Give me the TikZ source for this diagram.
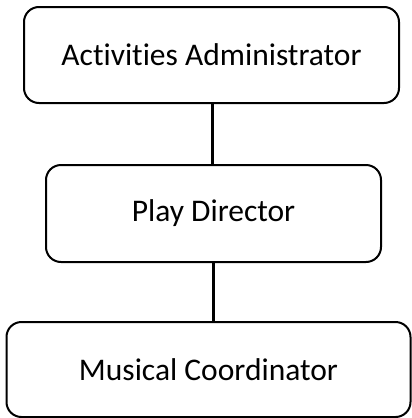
\documentclass[tikz,border=0pt]{standalone}
\usepackage{fontspec}
\setmainfont[Ligatures={NoCommon}]{Carlito}
\begin{document}
\begin{tikzpicture}[x=1pt,y=1pt,
  rolebox/.style={draw=black, line width=2pt, rounded corners=15pt, inner sep=0pt, font=\fontsize{31.5}{36}\selectfont},
  link/.style={draw=black, line width=3pt}]
\useasboundingbox (0,0) rectangle (412,-418);
\node[rolebox, minimum width=375pt, minimum height=96pt] (a) at (211.5,-55) {Activities Administrator};
\node[rolebox, minimum width=335pt, minimum height=97pt] (b) at (213.5,-213.5) {Play Director};
\node[rolebox, minimum width=404pt, minimum height=95pt] (c) at (208.5,-369.5) {Musical Coordinator};
\draw[link] (a.south -| 212.5,0) -- (b.north -| 212.5,0);
\draw[link] (b.south -| 213.5,0) -- (c.north -| 213.5,0);
\end{tikzpicture}
\end{document}
